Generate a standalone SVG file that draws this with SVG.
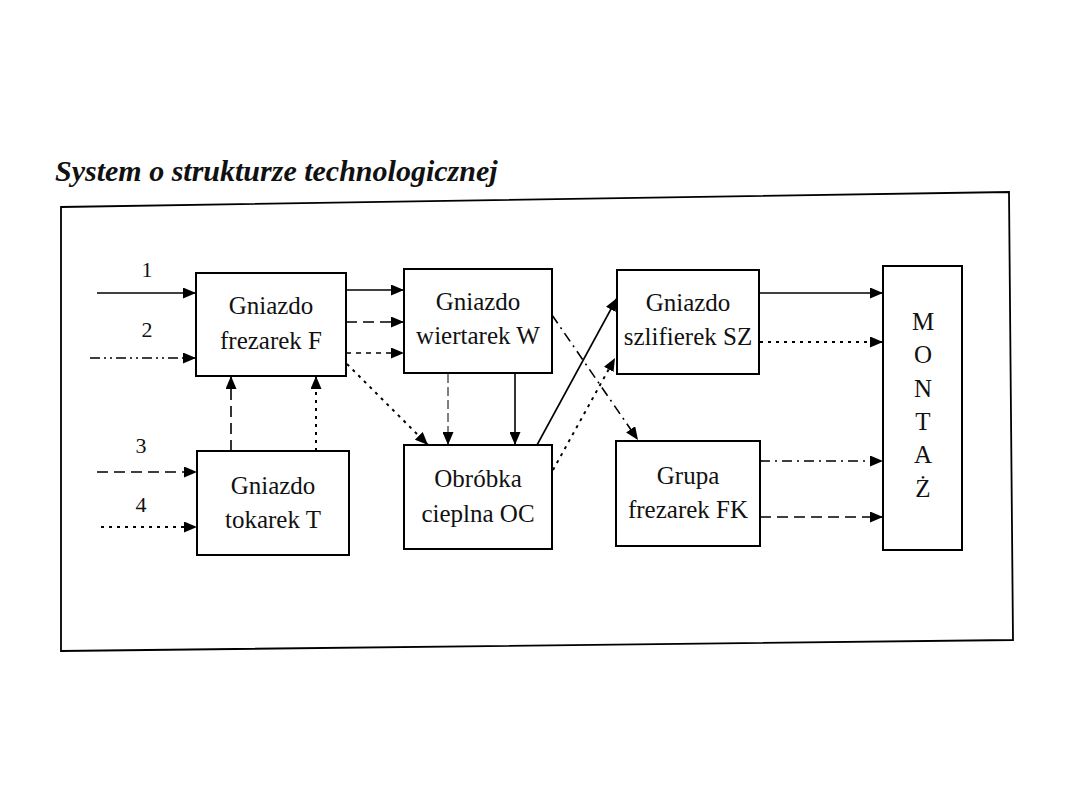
<svg xmlns="http://www.w3.org/2000/svg" width="1080" height="810" viewBox="0 0 1080 810">
<defs>
<marker id="ah" markerUnits="userSpaceOnUse" markerWidth="14" markerHeight="11" refX="13" refY="5.5" orient="auto">
<path d="M0,0 L13,5.5 L0,11 Z" fill="#000"/>
</marker>
<style>
.box{fill:#fff;stroke:#000;stroke-width:2}
.lbl{font-family:'Liberation Serif','Times New Roman',serif;font-size:25px;fill:#111;text-anchor:middle}
.num{font-family:'Liberation Serif','Times New Roman',serif;font-size:22px;fill:#111;text-anchor:middle}
.big{font-size:25px}
.c{fill:none;stroke:#000;stroke-width:1.6;marker-end:url(#ah)}
.dash{stroke-dasharray:11,6}
.dot{stroke-dasharray:3,5;stroke-width:2}
.sdash{stroke-dasharray:5,5}
.dd{stroke-dasharray:10,5,2,5}
.ddd{stroke-dasharray:10,4,2,4,2,4}
.thin{stroke-dasharray:9,4;stroke-width:1}
</style>
</defs>
<rect width="1080" height="810" fill="#fff"/>
<text x="55" y="181" font-family="'Liberation Serif','Times New Roman',serif" font-size="30" font-weight="bold" font-style="italic" fill="#111">System o strukturze technologicznej</text>
<polygon points="61,207 1009,192 1013,640 61,651" fill="none" stroke="#000" stroke-width="1.8"/>

<g id="connectors">
<path class="c" d="M97,293 H196"/>
<path class="c ddd" d="M90,358 H196"/>
<path class="c dash" d="M97,472 H197"/>
<path class="c dot" d="M101,527 H197"/>
<path class="c dash" d="M231,451 V376"/>
<path class="c dot" d="M316,451 V376"/>
<path class="c" d="M346,290 H404"/>
<path class="c dash" d="M346,322 H404"/>
<path class="c sdash" d="M346,353 H404"/>
<path class="c dot" d="M347,364 L428,445"/>
<path class="c thin" d="M448,374 V445"/>
<path class="c" d="M515,374 V445"/>
<path class="c" d="M537,445 L617,298"/>
<path class="c dot" d="M553,470 L615,358"/>
<path class="c dd" d="M552,315 L638,440"/>
<path class="c" d="M760,293 H883"/>
<path class="c dot" d="M760,342 H883"/>
<path class="c dd" d="M760,461 H883"/>
<path class="c dash" d="M760,517 H883"/>
</g>

<g id="labels" font-family="'Liberation Serif','Times New Roman',serif">
<text class="num" x="147" y="277">1</text>
<text class="num" x="147" y="337">2</text>
<text class="num" x="141" y="453">3</text>
<text class="num" x="141" y="512">4</text>
</g>

<g id="node-F" font-family="'Liberation Serif','Times New Roman',serif">
<rect class="box" x="196" y="273" width="150" height="103"/>
<text class="lbl" x="271" y="314">Gniazdo</text>
<text class="lbl" x="271" y="349">frezarek F</text>
</g>
<g id="node-T" font-family="'Liberation Serif','Times New Roman',serif">
<rect class="box" x="197" y="451" width="152" height="104"/>
<text class="lbl" x="273" y="494">Gniazdo</text>
<text class="lbl" x="273" y="528">tokarek T</text>
</g>
<g id="node-W" font-family="'Liberation Serif','Times New Roman',serif">
<rect class="box" x="404" y="269" width="148" height="104"/>
<text class="lbl" x="478" y="310">Gniazdo</text>
<text class="lbl" x="478" y="344">wiertarek W</text>
</g>
<g id="node-OC" font-family="'Liberation Serif','Times New Roman',serif">
<rect class="box" x="404" y="445" width="148" height="104"/>
<text class="lbl" x="478" y="487">Obróbka</text>
<text class="lbl" x="478" y="522">cieplna OC</text>
</g>
<g id="node-SZ" font-family="'Liberation Serif','Times New Roman',serif">
<rect class="box" x="617" y="270" width="142" height="104"/>
<text class="lbl" x="688" y="311">Gniazdo</text>
<text class="lbl" x="688" y="345">szlifierek SZ</text>
</g>
<g id="node-FK" font-family="'Liberation Serif','Times New Roman',serif">
<rect class="box" x="616" y="441" width="144" height="105"/>
<text class="lbl" x="688" y="484">Grupa</text>
<text class="lbl" x="688" y="518">frezarek FK</text>
</g>
<g id="node-MONTAZ" font-family="'Liberation Serif','Times New Roman',serif">
<rect class="box" x="883" y="266" width="79" height="284"/>
<text class="num big" x="923" y="330">M</text>
<text class="num big" x="923" y="363">O</text>
<text class="num big" x="923" y="397">N</text>
<text class="num big" x="923" y="430">T</text>
<text class="num big" x="923" y="463">A</text>
<text class="num big" x="923" y="497">Ż</text>
</g>
</svg>
